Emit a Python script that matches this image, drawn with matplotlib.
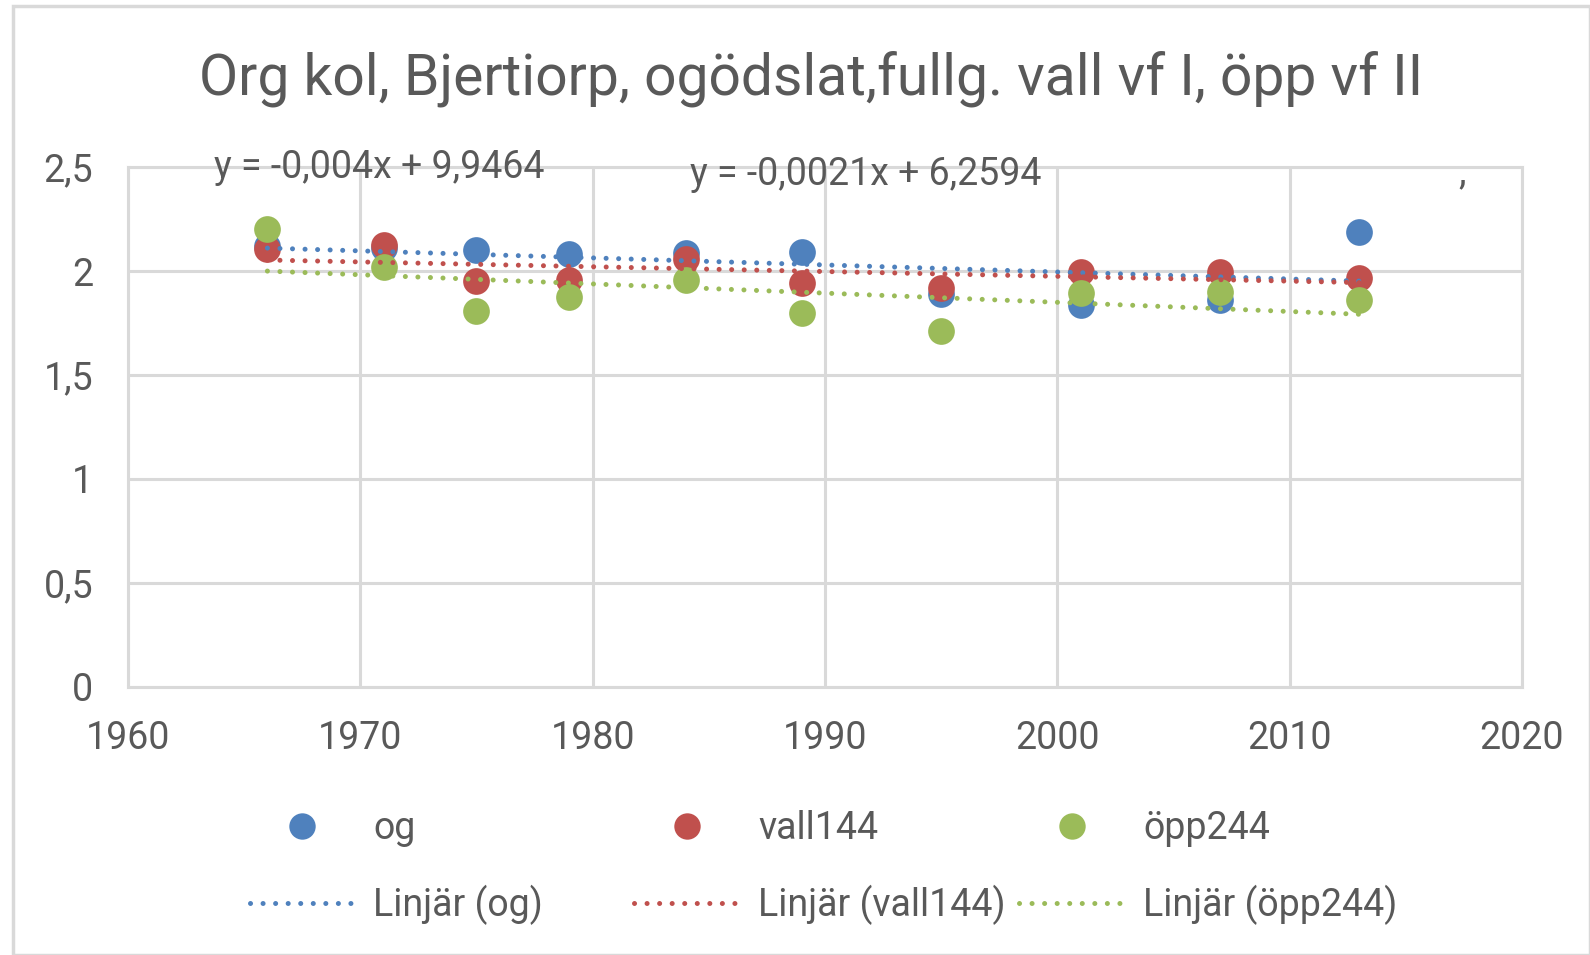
import numpy as np
import matplotlib
matplotlib.use("Agg")
import matplotlib.pyplot as plt
from matplotlib.lines import Line2D
from matplotlib.patches import Rectangle

plt.rcParams['font.family'] = ['Roboto', 'DejaVu Sans']

years = [1966, 1971, 1975, 1979, 1984, 1989, 1995, 2001, 2007, 2013]
og = [2.12, 2.11, 2.10, 2.08, 2.085, 2.09, 1.89, 1.836, 1.86, 2.19]
vall144 = [2.105, 2.124, 1.953, 1.958, 2.06, 1.94, 1.92, 1.997, 1.997, 1.968]
opp244 = [2.20, 2.017, 1.81, 1.875, 1.958, 1.80, 1.71, 1.895, 1.90, 1.86]

series_names = ["og", "vall144", "öpp244"]
trend_names = ["Linjär (og)", "Linjär (vall144)", "Linjär (öpp244)"]
colors = ["#4f81bd", "#c0504d", "#9bbb59"]
title = "Org kol, Bjertiorp, ogödslat,fullg. vall vf I, öpp vf II"
eq_labels = ["y = -0,004x + 9,9464", "y = -0,0021x + 6,2594", ","]
xticks = [1960, 1970, 1980, 1990, 2000, 2010, 2020]
yticks = [0, 0.5, 1, 1.5, 2, 2.5]
ytick_labels = ["0", "0,5", "1", "1,5", "2", "2,5"]

TXT = "#595959"
GRID = "#d9d9d9"
DOT = dict(linestyle=(0, (0.01, 2.5)), linewidth=3.6, dash_capstyle="round")

fig = plt.figure(figsize=(15.9, 9.55), dpi=100)
fig.patches.append(Rectangle((0.008, 0.0), 0.992, 0.994, transform=fig.transFigure,
                             fill=False, edgecolor="#d9d9d9", linewidth=2.5))
ax = fig.add_axes([0.0805, 0.281, 0.8767, 0.544])

data = [og, vall144, opp244]
yrs = np.array(years, dtype=float)
for vals, c in zip(data, colors):
    ax.scatter(years, vals, s=370, color=c, zorder=3, linewidths=0)
for vals, c in zip(data, colors):
    k, m = np.polyfit(yrs, np.array(vals), 1)
    xx = np.array([yrs.min(), yrs.max()])
    ax.plot(xx, k * xx + m, color=c, zorder=4, **DOT)

ax.set_xlim(1960, 2020)
ax.set_ylim(0, 2.5)
ax.set_xticks(xticks)
ax.set_yticks(yticks)
ax.set_yticklabels(ytick_labels)
ax.grid(True, color=GRID, linewidth=2.2)
ax.set_axisbelow(True)
for s in ax.spines.values():
    s.set_color(GRID)
    s.set_linewidth(2.2)
ax.tick_params(length=0, labelsize=27, labelcolor=TXT)
ax.tick_params(axis='x', pad=24)
ax.tick_params(axis='y', pad=25)

fig.text(0.51, 0.918, title, ha="center", va="center", fontsize=41, color=TXT)

ax.text(0.1805, 1.0, eq_labels[0], transform=ax.transAxes, ha="center", va="center",
        fontsize=27, color=TXT)
ax.text(0.529, 0.985, eq_labels[1], transform=ax.transAxes, ha="center", va="center",
        fontsize=27, color=TXT)
ax.text(0.957, 0.99, eq_labels[2], transform=ax.transAxes, ha="center", va="center",
        fontsize=27, color=TXT)

col_x = [0.157, 0.399, 0.641]
for i in range(3):
    h = [Line2D([], [], linestyle="none", marker="o", markersize=19, color=colors[i], markeredgewidth=0),
         Line2D([], [], color=colors[i], **DOT)]
    fig.legend(h, [series_names[i], trend_names[i]], loc="upper left",
               bbox_to_anchor=(col_x[i], 0.152), frameon=False, fontsize=27,
               labelcolor=TXT, handlelength=2.8, handletextpad=0.5,
               labelspacing=1.0, borderaxespad=0, borderpad=0)

fig.savefig("out.png", dpi=100)
